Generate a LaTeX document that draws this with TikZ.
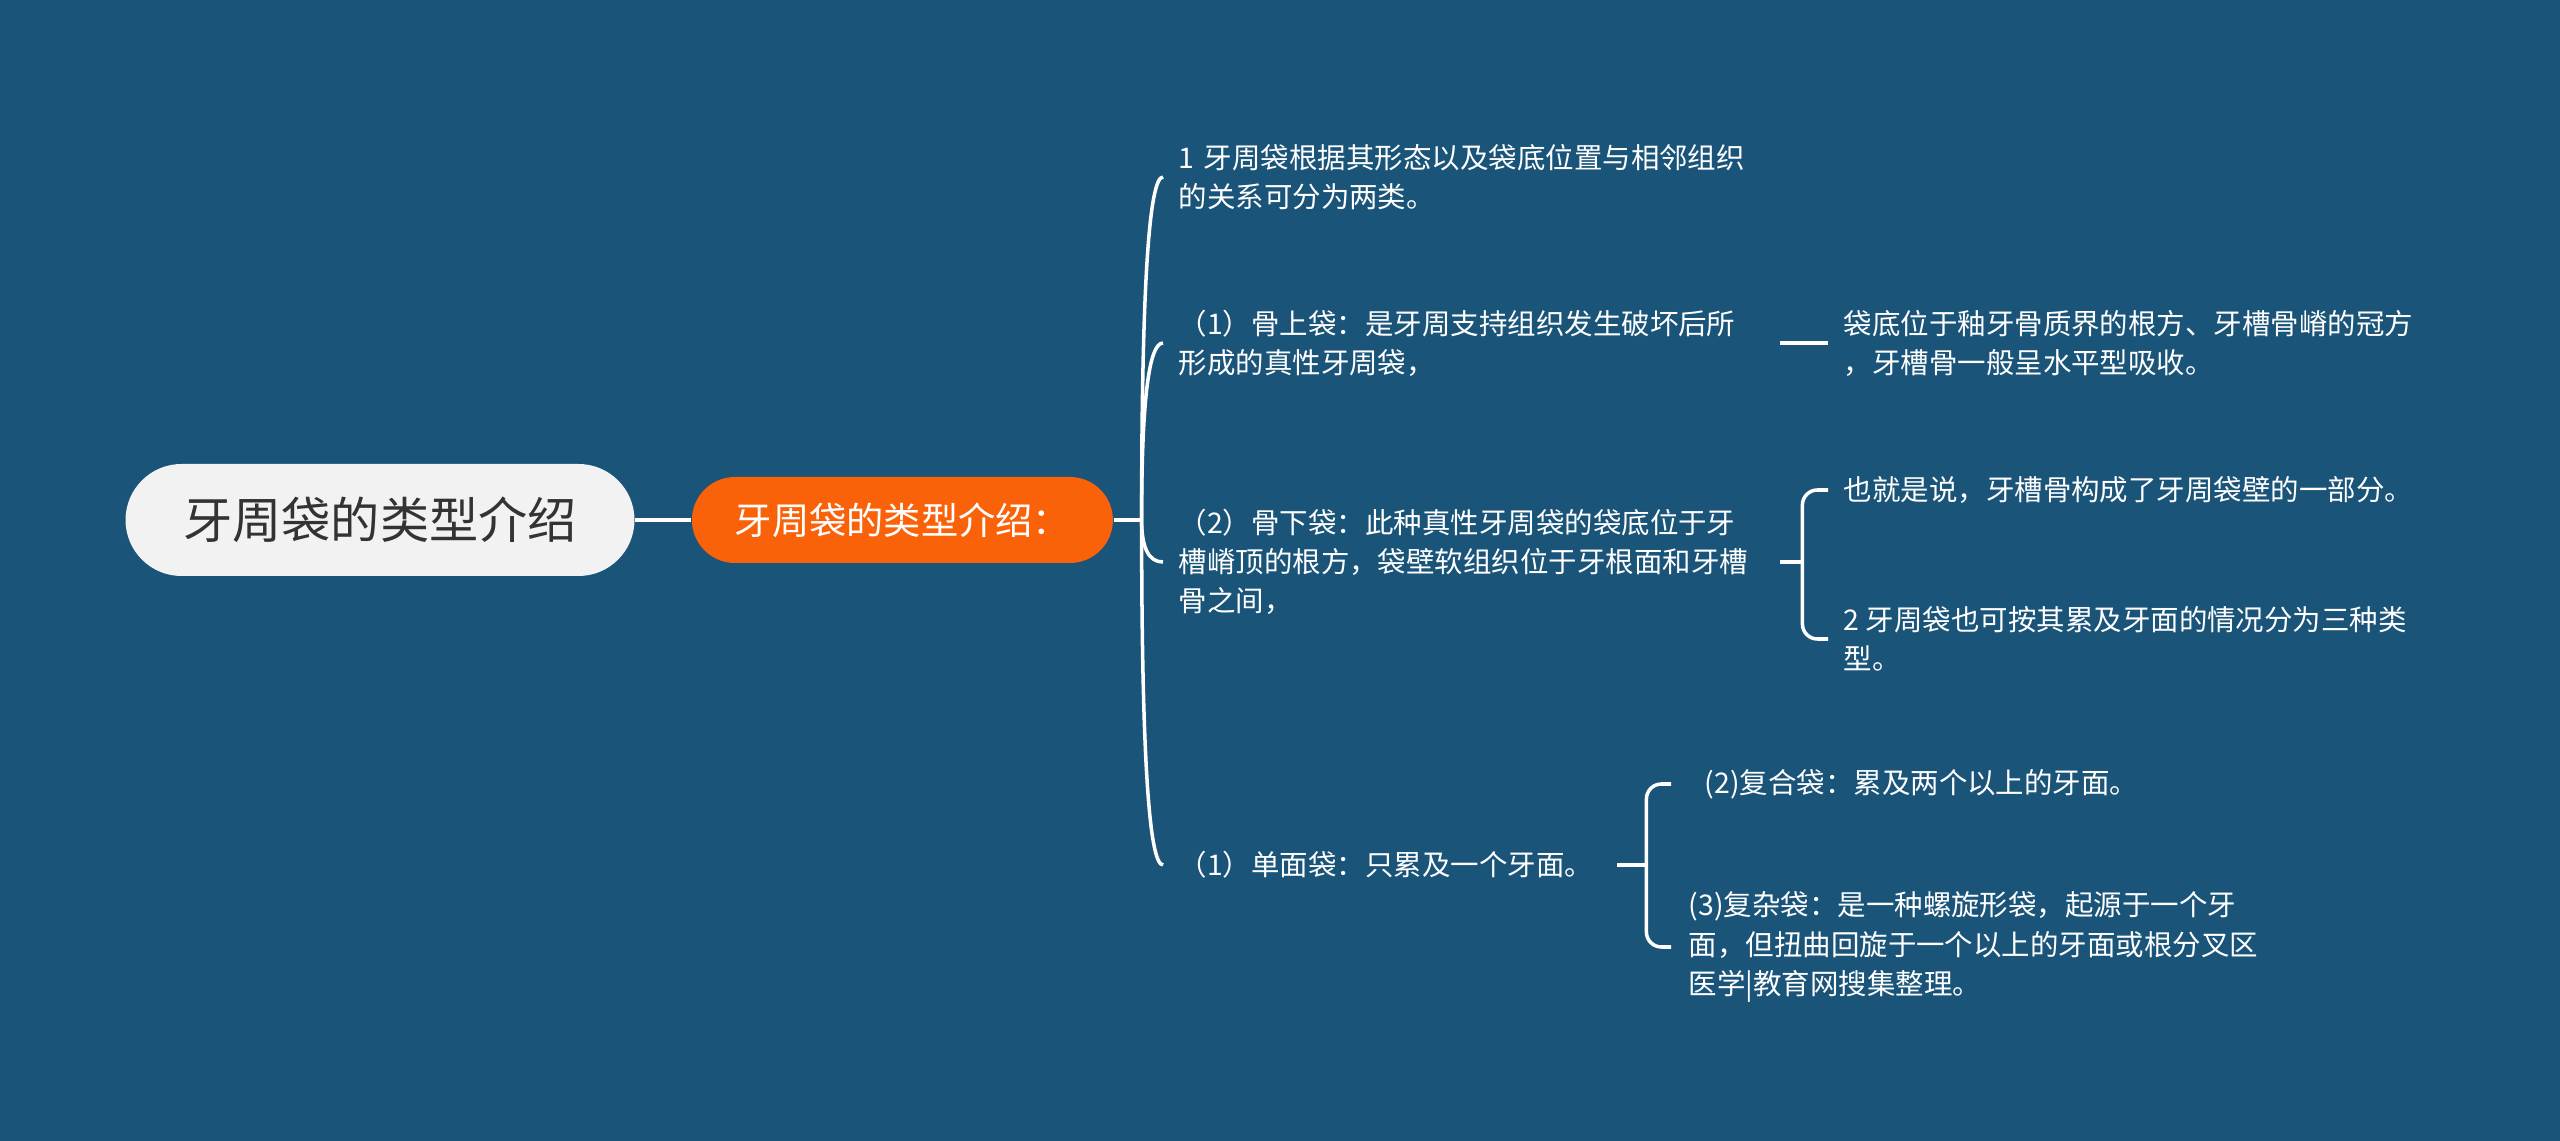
\documentclass[tikz,border=0pt]{standalone}
\usepackage{fontspec}
\setmainfont{Noto Sans CJK SC}
\usetikzlibrary{positioning,calc}
\definecolor{mapbg}{RGB}{26,84,121}
\definecolor{rootgray}{RGB}{242,242,242}
\definecolor{roottext}{RGB}{51,51,51}
\definecolor{mainorange}{RGB}{250,98,10}

\begin{document}
\begin{tikzpicture}[
    root/.style={rectangle, fill=rootgray, rounded corners=0.56cm,
                 minimum width=5.09cm, minimum height=1.12cm, text=roottext,
                 font=\fontsize{14}{16}\selectfont},
    mainbox/.style={rectangle, fill=mainorange, rounded corners=0.43cm,
                    minimum width=4.21cm, minimum height=0.86cm, text=white,
                    font=\fontsize{10.6}{12}\selectfont},
    leaf/.style={anchor=west, inner xsep=0.15cm, inner ysep=0pt, text=white,
                 align=left, font=\fontsize{8.1}{11.1}\selectfont},
    wideleaf/.style={leaf, text width=5.86cm},
    subleaf/.style={leaf, inner xsep=0.15cm},
    tipleaf/.style={leaf, inner xsep=0.17cm},
    link/.style={draw=white, line width=1pt},
    bracket/.style={link, rounded corners=0.15cm}
]
\useasboundingbox (0,0) rectangle (25.6,-11.41);
\fill[mapbg] (0,0) rectangle (25.6,-11.41);

% Root and main topic
\node[root] (root) at (3.80,-5.20) {牙周袋的类型介绍};
\node[mainbox, right=0.56cm of root] (main) {牙周袋的类型介绍：};
\coordinate[right=0.28cm of main] (hub);

% Level 1
\node[wideleaf, text width=6.2cm] (c1) at (11.63,-1.77) {1 牙周袋根据其形态以及袋底位置与相邻组织\\的关系可分为两类。};
\node[wideleaf] (c2) at (11.63,-3.43) {（1）骨上袋：是牙周支持组织发生破坏后所\\形成的真性牙周袋，};
\node[wideleaf] (c3) at (11.63,-5.62) {（2）骨下袋：此种真性牙周袋的袋底位于牙\\槽嵴顶的根方，袋壁软组织位于牙根面和牙槽\\骨之间，};
\node[leaf, text width=4.23cm] (c4) at (11.63,-8.65) {（1）单面袋：只累及一个牙面。};

% Level 2
\node[subleaf] (g1) at (18.28,-3.43) {袋底位于釉牙骨质界的根方、牙槽骨嵴的冠方\\，牙槽骨一般呈水平型吸收。};
\node[subleaf] (d1) at (18.28,-4.90) {也就是说，牙槽骨构成了牙周袋壁的一部分。};
\node[subleaf] (d2) at (18.28,-6.39) {2 牙周袋也可按其累及牙面的情况分为三种类\\型。};
\node[tipleaf] (e1) at (16.71,-7.84) {\hspace{0.16cm}(2)复合袋：累及两个以上的牙面。};
\node[tipleaf] (e2) at (16.71,-9.47) {(3)复杂袋：是一种螺旋形袋，起源于一个牙\\面，但扭曲回旋于一个以上的牙面或根分叉区\\医学|教育网搜集整理。};

\coordinate[right=0.22cm of c3] (j3);
\coordinate[right=0.29cm of c4] (j4);

% Connectors
\draw[link] (root.east) -- (main.west);
\draw[link] (main.east) -- (hub);
\foreach \c in {c1,c2,c3,c4}
  \draw[link] (hub) .. controls ($(hub)!0.667!(hub|-\c.west)$)
    and ($(\c.west)!0.667!(hub|-\c.west)$) .. (\c.west);
\draw[link] (c2.east) -- (g1.west);
\draw[link] (c3.east) -- (j3);
\draw[bracket] (j3) |- (d1.west);
\draw[bracket] (j3) |- (d2.west);
\draw[link] (c4.east) -- (j4);
\draw[bracket] (j4) |- (e1.west);
\draw[bracket] (j4) |- (e2.west);
\end{tikzpicture}
\end{document}
